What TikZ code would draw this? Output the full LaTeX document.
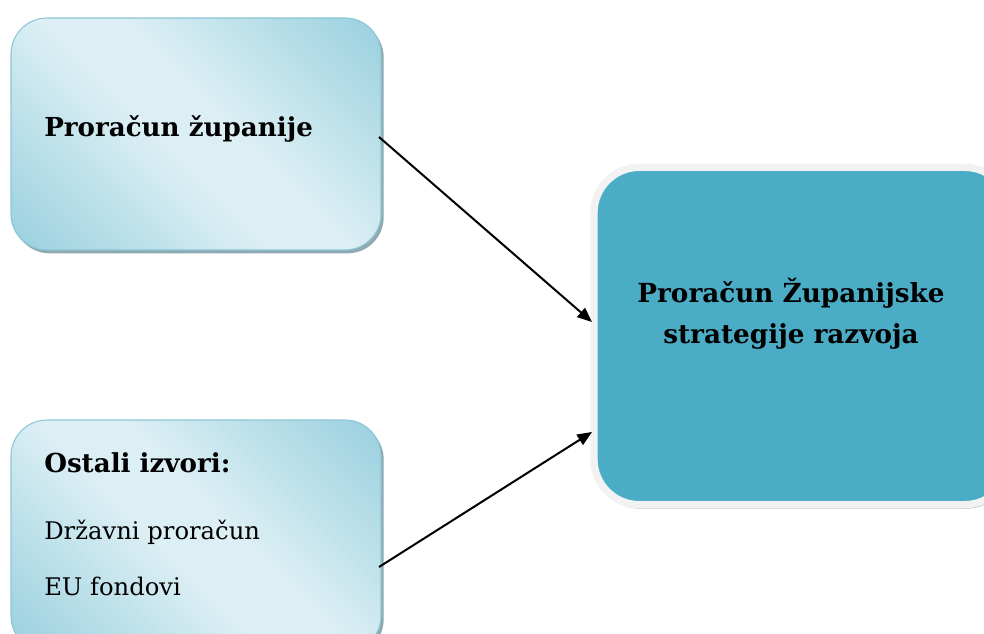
\documentclass[tikz,border=0pt]{standalone}
\usepackage{fontspec}
\setmainfont{DejaVu Serif}
\usetikzlibrary{arrows.meta,shadows,calc}
\definecolor{teal1}{HTML}{4BACC6}
\definecolor{frame1}{HTML}{F2F2F2}
\definecolor{lightA}{HTML}{DCEFF4}
\definecolor{darkA}{HTML}{93CDDD}
\definecolor{edgeA}{HTML}{8CC6D6}
\definecolor{shadA}{HTML}{8FA9B1}
\pgfdeclarehorizontalshading{srcshade}{100bp}{color(0bp)=(darkA); color(12bp)=(darkA); color(45bp)=(lightA); color(55bp)=(lightA); color(88bp)=(darkA); color(100bp)=(darkA)}
\tikzset{
  srcbox/.style={draw=edgeA, line width=0.8pt, rounded corners=27pt,
    minimum width=277.5pt, minimum height=174pt, inner sep=0pt,
    shading=srcshade, shading angle=45,
    drop shadow={shadow xshift=2pt, shadow yshift=-2.5pt, fill=shadA, opacity=1}},
  tgtbox/.style={draw=frame1, line width=5.5pt, rounded corners=34pt, fill=teal1,
    minimum width=312pt, minimum height=253pt, inner sep=0pt,
    drop shadow={shadow xshift=1pt, shadow yshift=-3pt, fill=shadA, opacity=0.8}},
  lbl/.style={anchor=base west, inner sep=0pt, font=\fontsize{19.6}{22}\selectfont\bfseries},
  txt/.style={anchor=base west, inner sep=0pt, font=\fontsize{18.2}{20}\selectfont},
  tlbl/.style={align=center, inner sep=0pt, font=\fontsize{19.7}{31}\selectfont\bfseries},
  arr/.style={-{Triangle[length=11pt,width=9pt]}, line width=1.5pt, black}
}
\begin{document}
\begin{tikzpicture}[x=0.75pt,y=-0.75pt]
\useasboundingbox (0,0) rectangle (984,634);
\clip (0,0) rectangle (984,634);
\node[srcbox] (b1) at (196,134) {};
\node[srcbox] (b2) at (196,536) {};
\node[tgtbox] (t) at (802,336) {};
\node[lbl] (l1) at (44,137) {Proračun županije};
\node[lbl] (l2) at (44,472) {Ostali izvori:};
\node[txt] (l3) at (44,539) {Državni proračun};
\node[txt] (l4) at (44,595) {EU fondovi};
\node[tlbl] (l5) at (791,314) {Proračun Županijske\\strategije razvoja};
\coordinate (s1) at (379,137);
\coordinate (s2) at (379,567);
\coordinate (e1) at (592,322);
\coordinate (e2) at (592,432);
\draw[arr] (s1) -- (e1);
\draw[arr] (s2) -- (e2);
\end{tikzpicture}
\end{document}
